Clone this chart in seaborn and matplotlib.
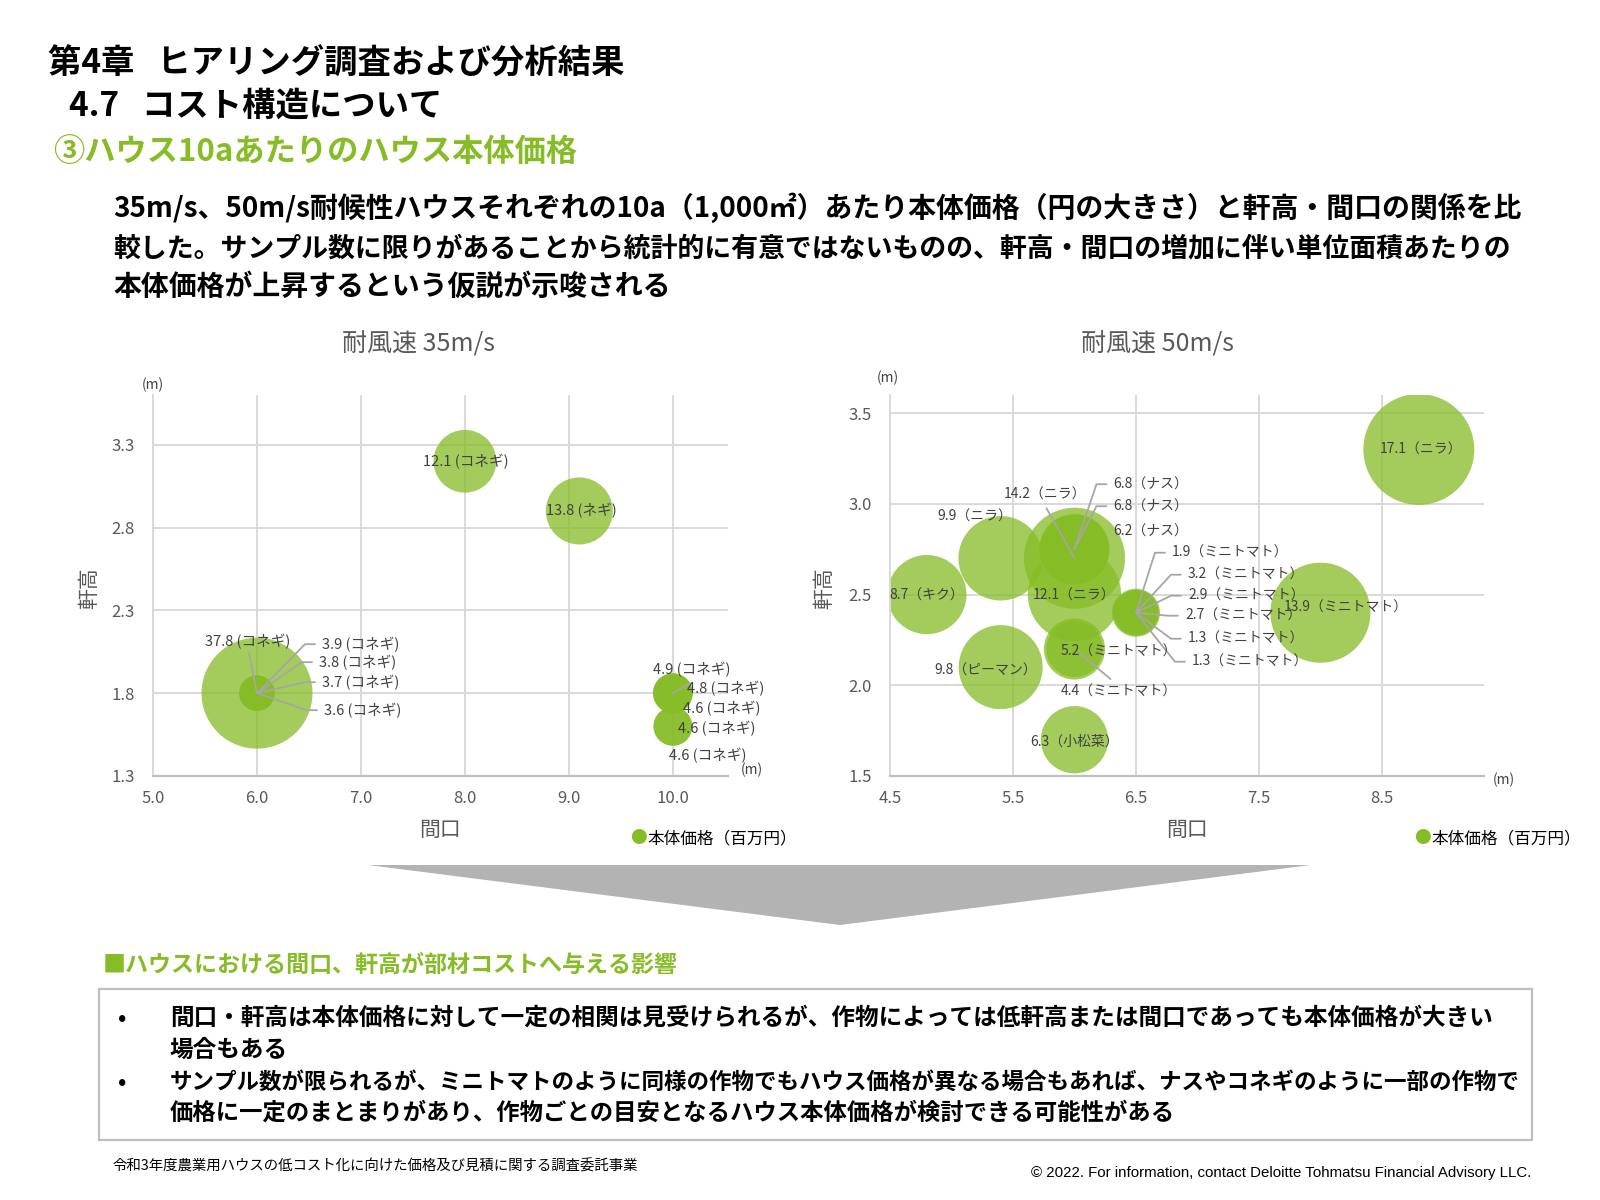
import numpy as np
import pandas as pd
import matplotlib
matplotlib.use('Agg')
import matplotlib.pyplot as plt
import matplotlib.transforms as mtransforms
from matplotlib.lines import Line2D
from matplotlib.patches import Rectangle, Polygon
import seaborn as sns

# ---------------- data ----------------
left_title = '耐風速 35m/s'
left_frontage = [6.0, 6.0, 6.0, 6.0, 6.0, 8.0, 9.1, 10.0, 10.0, 10.0, 10.0, 10.0]
left_eaves = [1.8, 1.8, 1.8, 1.8, 1.8, 3.2, 2.9, 1.8, 1.8, 1.8, 1.6, 1.6]
left_price = [37.8, 3.9, 3.8, 3.7, 3.6, 12.1, 13.8, 4.9, 4.8, 4.6, 4.6, 4.6]
left_crop = ['コネギ', 'コネギ', 'コネギ', 'コネギ', 'コネギ', 'コネギ', 'ネギ',
             'コネギ', 'コネギ', 'コネギ', 'コネギ', 'コネギ']
left_xticks = [5.0, 6.0, 7.0, 8.0, 9.0, 10.0]
left_yticks = [1.3, 1.8, 2.3, 2.8, 3.3]

right_title = '耐風速 50m/s'
right_frontage = [8.8, 8.0, 6.0, 6.0, 5.4, 5.4, 4.8, 6.0, 6.0, 6.0, 6.0, 6.0, 6.0,
                  6.5, 6.5, 6.5, 6.5, 6.5, 6.5]
right_eaves = [3.3, 2.4, 2.7, 2.5, 2.7, 2.1, 2.5, 2.75, 2.75, 2.75, 1.7, 2.2, 2.2,
               2.4, 2.4, 2.4, 2.4, 2.4, 2.4]
right_price = [17.1, 13.9, 14.2, 12.1, 9.9, 9.8, 8.7, 6.8, 6.8, 6.2, 6.3, 5.2, 4.4,
               1.9, 3.2, 2.9, 2.7, 1.3, 1.3]
right_crop = ['ニラ', 'ミニトマト', 'ニラ', 'ニラ', 'ニラ', 'ピーマン', 'キク', 'ナス', 'ナス',
              'ナス', '小松菜', 'ミニトマト', 'ミニトマト', 'ミニトマト', 'ミニトマト',
              'ミニトマト', 'ミニトマト', 'ミニトマト', 'ミニトマト']
right_xticks = [4.5, 5.5, 6.5, 7.5, 8.5]
right_yticks = [1.5, 2.0, 2.5, 3.0, 3.5]

legend_label = '本体価格（百万円）'
x_label = '間口'
y_label = '軒高'
unit_label = '(m)'

title1 = '第4章   ヒアリング調査および分析結果'
title2 = '4.7   コスト構造について'
title3 = '③ハウス10aあたりのハウス本体価格'
body_lines = [
    '35m/s、50m/s耐候性ハウスそれぞれの10a（1,000㎡）あたり本体価格（円の大きさ）と軒高・間口の関係を比',
    '較した。サンプル数に限りがあることから統計的に有意ではないものの、軒高・間口の増加に伴い単位面積あたりの',
    '本体価格が上昇するという仮説が示唆される',
]
section_title = '■ハウスにおける間口、軒高が部材コストへ与える影響'
bullet_lines = [
    ('•', '間口・軒高は本体価格に対して一定の相関は見受けられるが、作物によっては低軒高または間口であっても本体価格が大きい'),
    ('', '場合もある'),
    ('•', 'サンプル数が限られるが、ミニトマトのように同様の作物でもハウス価格が異なる場合もあれば、ナスやコネギのように一部の作物で'),
    ('', '価格に一定のまとまりがあり、作物ごとの目安となるハウス本体価格が検討できる可能性がある'),
]
footer_left = '令和3年度農業用ハウスの低コスト化に向けた価格及び見積に関する調査委託事業'
footer_right = '© 2022. For information, contact Deloitte Tohmatsu Financial Advisory LLC.'

# ---------------- layout / style (pixel offsets of labels) ----------------
# (dx, dy) offset in pixels from the bubble centre (dy positive = downward), ha, leader
left_label_layout = [
    (-9, -52, 'center', ('line', -8, -40)),
    (65, -49, 'left', 'elbow'),
    (62, -31, 'left', 'elbow'),
    (65, -11, 'left', 'elbow'),
    (67, 17, 'left', 'elbow'),
    (1, 0, 'center', None),
    (2, 0, 'center', None),
    (19, -24, 'center', None),
    (14, -5, 'left', ('line', 17, -10)),
    (10, 15, 'left', None),
    (5, 2, 'left', None),
    (-4, 29, 'left', None),
]
right_label_layout = [
    (2, 0, 'center', None),
    (25, -5, 'center', None),
    (-29, -64, 'center', ('line', -28, -50)),
    (0, 1, 'center', None),
    (-26, -42, 'center', None),
    (-15, 4, 'center', None),
    (0, 1, 'center', None),
    (39, -65, 'left', 'elbow'),
    (39, -43, 'left', 'elbow'),
    (39, -18, 'left', None),
    (0, 2, 'center', None),
    (-14, 3, 'left', None),
    (-14, 43, 'left', ('seg', 5, 4, 36, 30)),
    (36, -60, 'left', 'elbow'),
    (52, -38, 'left', 'elbow'),
    (52, -17, 'left', 'elbow'),
    (49, 3, 'left', 'elbow'),
    (52, 26, 'left', 'elbow'),
    (56, 49, 'left', 'elbow'),
]

GREEN = '#86BC25'
GRAY_TXT = '#595959'
W, H = 1600, 1200

sns.set_theme(style='white')
plt.rcParams['font.family'] = ['Noto Sans CJK JP', 'DejaVu Sans']

fig = plt.figure(figsize=(16, 12), dpi=100)
fig.patch.set_facecolor('white')


def T(x, y, s, **kw):
    kw.setdefault('va', 'center')
    return fig.text(x / W, 1 - y / H, s, **kw)


def make_axes(x0, x1, y0, y1):
    return fig.add_axes([x0 / W, 1 - y1 / H, (x1 - x0) / W, (y1 - y0) / H])


def style_axes(ax, xlim, ylim, xticks, yticks):
    ax.set_xlim(xlim)
    ax.set_ylim(ylim)
    ax.set_xticks(xticks)
    ax.set_yticks(yticks)
    ax.set_xticklabels([f'{t:.1f}' for t in xticks])
    ax.set_yticklabels([f'{t:.1f}' for t in yticks])
    ax.set_xlabel('')
    ax.set_ylabel('')
    ax.grid(True, color='#D9D9D9', linewidth=1.4)
    ax.set_axisbelow(True)
    for s in ['top', 'right']:
        ax.spines[s].set_visible(False)
    ax.spines['left'].set_color('#D9D9D9')
    ax.spines['left'].set_linewidth(1.4)
    ax.spines['bottom'].set_color('#BFBFBF')
    ax.spines['bottom'].set_linewidth(1.6)
    ax.tick_params(axis='both', length=0, labelsize=12, labelcolor=GRAY_TXT)
    ax.tick_params(axis='y', pad=13)
    ax.tick_params(axis='x', pad=10)
    ax.set_facecolor('white')


def bubbles(ax, xs, ys, vals, smax=6384):
    df = pd.DataFrame({'x': xs, 'y': ys, 'v': vals})
    sns.scatterplot(data=df, x='x', y='y', size='v', sizes=(0, smax),
                    size_norm=(0, max(vals)), color=GREEN, alpha=0.75,
                    linewidth=0, legend=False, ax=ax, zorder=2)


def draw_labels(ax, xs, ys, texts, layout, size):
    for x, y, s, (dx, dy, ha, leader) in zip(xs, ys, texts, layout):
        ax.annotate(s, xy=(x, y), xytext=(dx, -dy), textcoords='offset pixels',
                    ha=ha, va='center', fontsize=size, color='#404040', zorder=6)
        if leader is None:
            continue
        px, py = ax.transData.transform((x, y))
        if leader == 'elbow':
            pts = [(0, 0), (dx - 17, dy), (dx - 7, dy)]
        elif leader[0] == 'line':
            pts = [(0, 0), (leader[1], leader[2])]
        else:
            pts = [(leader[1], leader[2]), (leader[3], leader[4])]
        lx = [px + a for a, b in pts]
        ly = [py - b for a, b in pts]
        ax.add_line(Line2D(lx, ly, transform=mtransforms.IdentityTransform(),
                           color='#A6A6A6', linewidth=1.3, zorder=5))


# ---------------- left chart ----------------
axL = make_axes(153, 728, 395, 776)
bubbles(axL, left_frontage, left_eaves, left_price)
style_axes(axL, (5.0, 10.53), (1.3, 3.6), left_xticks, left_yticks)
left_texts = [f'{v} ({c})' for v, c in zip(left_price, left_crop)]
draw_labels(axL, left_frontage, left_eaves, left_texts, left_label_layout, 10.5)

# ---------------- right chart ----------------
axR = make_axes(890, 1484, 395, 776)
bubbles(axR, right_frontage, right_eaves, right_price)
style_axes(axR, (4.5, 9.33), (1.5, 3.6), right_xticks, right_yticks)
right_texts = [f'{v}（{c}）' for v, c in zip(right_price, right_crop)]
draw_labels(axR, right_frontage, right_eaves, right_texts, right_label_layout, 10)

# chart texts
T(418, 344, left_title, ha='center', fontsize=18, color=GRAY_TXT)
T(1157, 344, right_title, ha='center', fontsize=18, color=GRAY_TXT)
T(153, 385, unit_label, ha='center', fontsize=10, color='#404040')
T(888, 378, unit_label, ha='center', fontsize=10, color='#404040')
T(752, 770, unit_label, ha='center', fontsize=10, color='#404040')
T(1504, 780, unit_label, ha='center', fontsize=10, color='#404040')
T(89, 588, y_label, ha='center', rotation=90, fontsize=15, color=GRAY_TXT)
T(824, 588, y_label, ha='center', rotation=90, fontsize=15, color=GRAY_TXT)
T(440, 830, x_label, ha='center', fontsize=15, color=GRAY_TXT)
T(1187, 830, x_label, ha='center', fontsize=15, color=GRAY_TXT)
for cx, tx in [(638, 647), (1422, 1431)]:
    T(cx, 839, '●', ha='center', fontsize=12, color=GREEN)
    T(tx, 839, legend_label, ha='left', fontsize=12, color='#000000')

# ---------------- header ----------------
T(48, 64, title1, ha='left', fontsize=24, weight='bold', color='black')
T(69, 106, title2, ha='left', fontsize=24, weight='bold', color='black')
T(53, 152, title3, ha='left', fontsize=22.5, weight='bold', color=GREEN)
for (yy, fs), line in zip([(208, 20.1), (248, 19.4), (287, 20.1)], body_lines):
    T(113, yy, line, ha='left', fontsize=fs, weight='bold', color='black')

# ---------------- bottom ----------------
fig.add_artist(Polygon([(368 / W, 1 - 865 / H), (1311 / W, 1 - 865 / H), (840 / W, 1 - 925 / H)],
                       closed=True, facecolor='#B3B3B3', edgecolor='none',
                       transform=fig.transFigure))
T(103, 966, section_title, ha='left', fontsize=16.6, weight='bold', color=GREEN)
fig.add_artist(Rectangle((99 / W, 1 - 1140 / H), 1433 / W, 151 / H, fill=False,
                         edgecolor='#BFBFBF', linewidth=1.6, transform=fig.transFigure))
for (yy, fs), (b, line) in zip([(1018, 17), (1050, 17), (1082, 16.2), (1113, 16.8)], bullet_lines):
    if b:
        T(122, yy, b, ha='center', fontsize=16, weight='bold', color='black')
    T(170, yy, line, ha='left', fontsize=fs, weight='bold', color='black')

T(113, 1166, footer_left, ha='left', fontsize=10.4, color='black')
T(1531, 1173, footer_right, ha='right', fontsize=10.8, color='black',
  family=['Liberation Sans', 'DejaVu Sans'])

fig.savefig('out.png', dpi=100, facecolor='white')
